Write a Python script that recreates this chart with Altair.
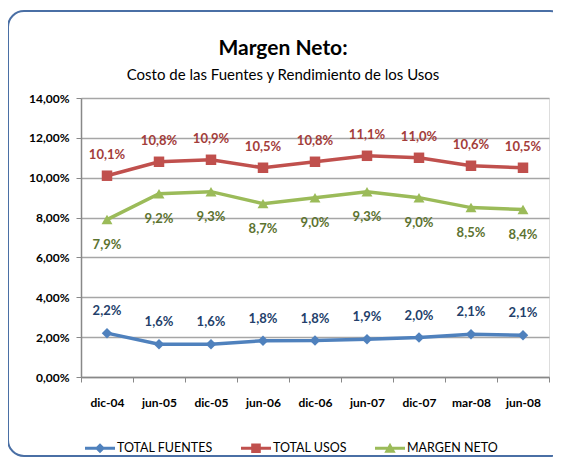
import altair as alt
import pandas as pd

fechas = ["dic-04", "jun-05", "dic-05", "jun-06", "dic-06", "jun-07", "dic-07", "mar-08", "jun-08"]
total_fuentes = [2.2, 1.64, 1.64, 1.82, 1.83, 1.9, 1.98, 2.14, 2.1]
total_usos = [10.1, 10.8, 10.9, 10.5, 10.8, 11.1, 11.0, 10.6, 10.5]
margen_neto = [7.9, 9.2, 9.3, 8.7, 9.0, 9.3, 9.0, 8.5, 8.4]
series = ["TOTAL FUENTES", "TOTAL USOS", "MARGEN NETO"]
y_ticks = [0, 0.02, 0.04, 0.06, 0.08, 0.10, 0.12, 0.14]

line_colors = ["#4F81BD", "#C0504D", "#9BBB59"]
label_colors = ["#243F6B", "#A33D3A", "#5C7330"]
marker_shapes = ["diamond", "square", "triangle-up"]
marker_sizes = [110, 110, 120]
label_dy = [-22, -21, 25]

rows = []
for name, vals in zip(series, [total_fuentes, total_usos, margen_neto]):
    for f, v in zip(fechas, vals):
        rows.append({"serie": name, "fecha": f, "valor": v / 100,
                     "etiqueta": f"{v:.1f}".replace(".", ",") + "%"})
df = pd.DataFrame(rows)

FONT = "Lato"

x_enc = alt.X("fecha:N", sort=fechas, bandPosition=0.5,
              scale=alt.Scale(type="band", paddingInner=0, paddingOuter=0),
              axis=alt.Axis(title=None, tickBand="extent", labelAngle=0,
                            labelFont=FONT, labelFontWeight="bold", labelFontSize=12,
                            labelColor="black", labelPadding=15, tickSize=5,
                            tickColor="#888888", domainColor="#888888", domainWidth=1.5,
                            grid=False))
y_enc = alt.Y("valor:Q", scale=alt.Scale(domain=[0, 0.14], nice=False, zero=True),
              axis=alt.Axis(title=None, values=y_ticks, labelOverlap=False,
                            labelExpr="replace(format(datum.value, '.2%'), '.', ',')",
                            labelFont=FONT, labelFontWeight="bold", labelFontSize=12,
                            labelColor="black", labelPadding=7, tickSize=5,
                            tickColor="#888888", domainColor="#888888", domainWidth=1.5,
                            gridColor="#A6A6A6", gridWidth=1.5))

base = alt.Chart(df)
layers = []

# border frame
border = alt.Chart(alt.Data(values=[{}])).mark_rect(
    fill="transparent", stroke="#4A6FA5", strokeWidth=2, cornerRadius=16
).encode(x=alt.value(-73), x2=alt.value(485), y=alt.value(-87), y2=alt.value(358))
layers.append(border)

for name, lc, tc, shp, sz, dy in zip(series, line_colors, label_colors, marker_shapes, marker_sizes, label_dy):
    sub = base.transform_filter(alt.datum.serie == name)
    layers.append(sub.mark_line(color=lc, strokeWidth=3.5).encode(x=x_enc, y=y_enc))
    layers.append(sub.mark_point(shape=shp, filled=True, color=lc, size=sz, opacity=1).encode(
        x=x_enc, y=y_enc))
    layers.append(sub.mark_text(color=tc, font=FONT, fontWeight="bold", fontSize=13, dy=dy).encode(
        x=x_enc, y=y_enc, text="etiqueta:N"))

# legend (custom symbols: line + marker)
bar = "M-1,-0.1H1V0.1H-1Z"
legend_paths = [
    bar + " M0,-0.34L0.34,0L0,0.34L-0.34,0Z",
    bar + " M-0.32,-0.32H0.32V0.32H-0.32Z",
    bar + " M0,-0.36L0.38,0.3H-0.38Z",
]
legend_layer = base.transform_filter("false").mark_point(filled=True, opacity=1).encode(
    x=x_enc, y=y_enc,
    color=alt.Color("serie:N", title=None,
                    scale=alt.Scale(domain=series, range=line_colors),
                    legend=alt.Legend(orient="none", direction="horizontal",
                                      legendX=4, legendY=335, symbolSize=900,
                                      symbolStrokeWidth=0, symbolOpacity=1,
                                      labelFont=FONT, labelFontSize=12.5, labelColor="black",
                                      labelOffset=2, columnPadding=28, padding=0)),
    shape=alt.Shape("serie:N", title=None,
                    scale=alt.Scale(domain=series, range=legend_paths)),
)
layers.append(legend_layer)

chart = alt.layer(*layers).properties(
    width=468, height=279,
    padding={"left": 73, "top": 90, "right": 4, "bottom": 81},
    autosize=alt.AutoSizeParams(type="none"),
    title=alt.TitleParams("Margen Neto:", subtitle="Costo de las Fuentes y Rendimiento de los Usos",
                          anchor="middle", frame="group", dx=-32, font=FONT, fontSize=21,
                          fontWeight="bold", color="black", subtitleFont=FONT,
                          subtitleFontSize=15, subtitleColor="black", subtitlePadding=9,
                          offset=-73),
).configure_view(stroke=None).configure(background="white")

chart.save("out.html", embed_options={"renderer": "svg", "actions": False})
